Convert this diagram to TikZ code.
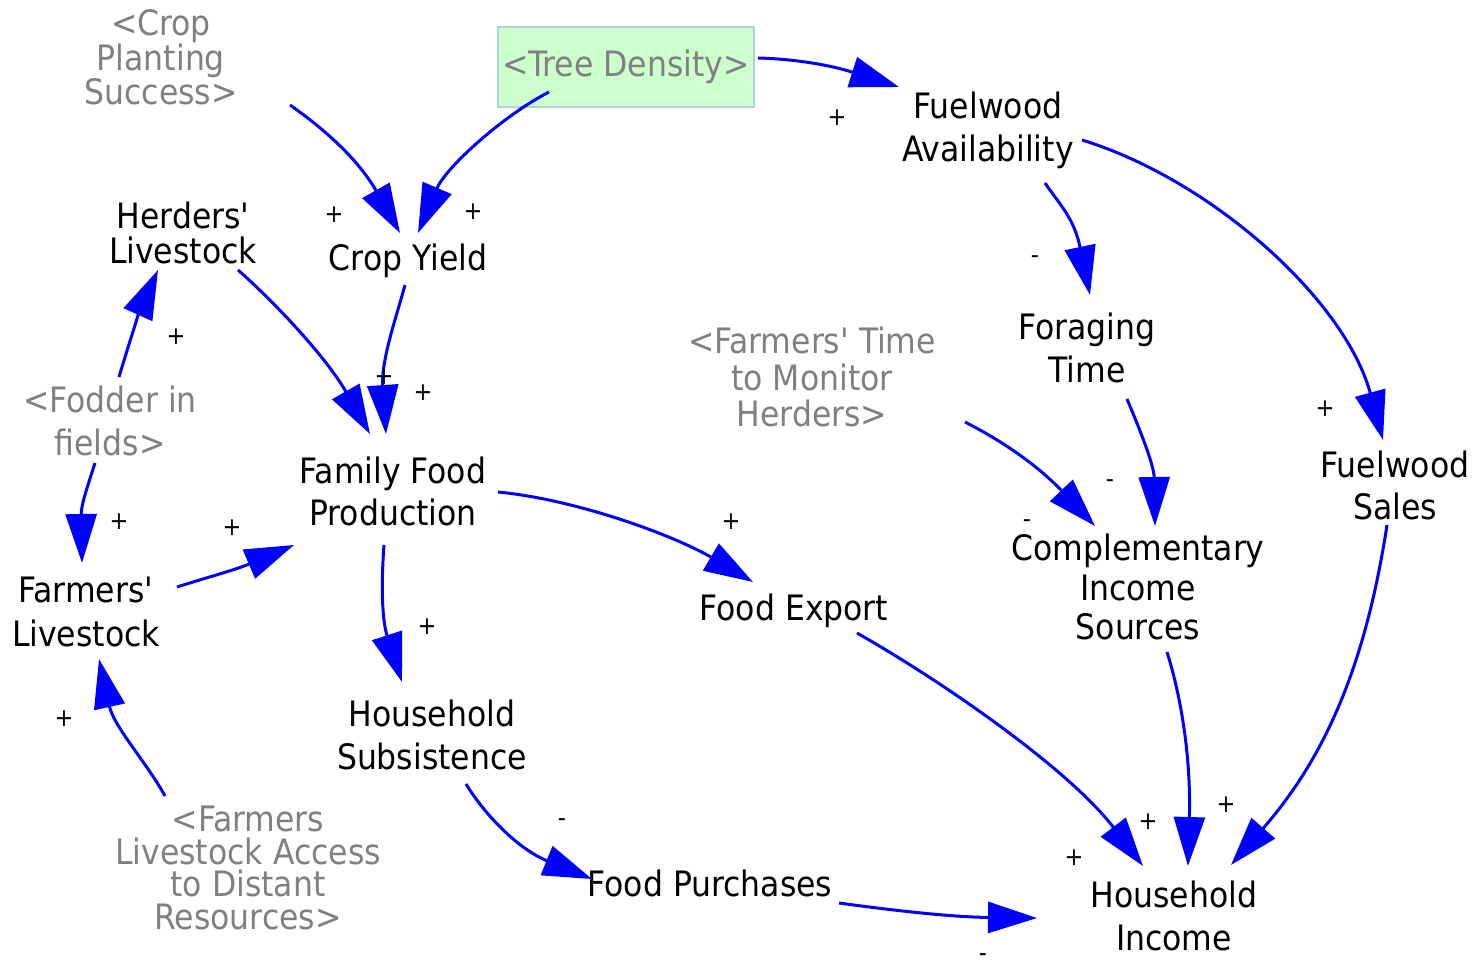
\documentclass[tikz,border=0pt]{standalone}
\usepackage{fontspec}
\setmainfont{DejaVu Sans Condensed}
\usetikzlibrary{arrows.meta,calc}
\definecolor{linkblue}{RGB}{0,0,255}
\definecolor{shadowgray}{RGB}{128,128,128}
\definecolor{boxfill}{RGB}{204,255,204}
\definecolor{boxline}{RGB}{170,212,215}
\tikzset{
  var/.style={align=center,inner sep=0pt,text=black},
  shadowvar/.style={align=center,inner sep=0pt,text=shadowgray},
  sign/.style={inner sep=0pt,font=\fontsize{25}{25}\selectfont,text=black},
  link/.style={draw=linkblue,line width=3pt,-{Triangle[length=49pt,width=31pt]}},
}
\newcommand{\fs}[1]{\fontsize{35}{#1}\selectfont}
\newcommand{\ap}{\textquotesingle}
\begin{document}
\begin{tikzpicture}[x=1pt,y=-1pt]
\useasboundingbox (0,0) rectangle (1475,970);
% nodes
\node[shadowvar,font=\fs{33}] (cps) at (161,57) {<Crop\\Planting\\Success>};
\node[shadowvar,font=\fs{34},fill=boxfill,draw=boxline,line width=2pt,minimum width=256pt,minimum height=80pt] (td) at (626,67) {<Tree Density>};
\node[var,font=\fs{43}] (fa) at (988,130) {Fuelwood\\Availability};
\node[var,font=\fs{35}] (hl) at (183,233) {Herders\ap\\Livestock};
\node[var,font=\fs{42}] (cy) at (408,261) {Crop Yield};
\node[var,font=\fs{43}] (ft) at (1087,348) {Foraging\\Time};
\node[shadowvar,font=\fs{36.5}] (fmt) at (812,377) {<Farmers\ap\ Time\\to Monitor\\Herders>};
\node[shadowvar,font=\fs{43}] (fod) at (110,421) {<Fodder in\\fields>};
\node[var,font=\fs{42}] (fs) at (1395,485) {Fuelwood\\Sales};
\node[var,font=\fs{42}] (ffp) at (393,491) {Family Food\\Production};
\node[var,font=\fs{39.5}] (cis) at (1138,587) {Complementary\\Income\\Sources};
\node[var,font=\fs{44}] (fl) at (86,612) {Farmers\ap\\Livestock};
\node[var,font=\fs{42}] (fe) at (794,611) {Food Export};
\node[var,font=\fs{43}] (hs) at (432,735) {Household\\Subsistence};
\node[shadowvar,font=\fs{32.5}] (fla) at (248,868) {<Farmers\\Livestock Access\\to Distant\\Resources>};
\node[var,font=\fs{42}] (fp) at (710,883) {Food Purchases};
\node[var,font=\fs{43}] (hi) at (1174,916) {Household\\Income};
% links
\draw[link] ($(cps)+(129,48)$) .. controls (340,140) and (365,171) .. ($(cy)+(-8,-28)$);
\draw[link] ($(td)+(-77,25)$) .. controls (504,115) and (446,167) .. ($(cy)+(10,-28)$);
\draw[link] ($(td)+(132,-9)$) .. controls (795,59) and (830,65) .. ($(fa)+(-89,-43)$);
\draw[link] ($(fa)+(57,53)$) .. controls (1060,205) and (1074,218) .. ($(ft)+(3,-53)$);
\draw[link] ($(fa)+(94,10)$) .. controls (1212,180) and (1345,300) .. ($(fs)+(-12,-45)$);
\draw[link] ($(hl)+(55,37)$) .. controls (270,298) and (325,355) .. ($(ffp)+(-23,-57)$);
\draw[link] ($(cy)+(-3,24)$) .. controls (397,315) and (381,360) .. ($(ffp)+(-7,-57)$);
\draw[link] ($(fod)+(9,-44)$) .. controls (127,350) and (140,310) .. ($(hl)+(-25,37)$);
\draw[link] ($(fod)+(-15,42)$) .. controls (88,485) and (81,505) .. ($(fl)+(-4,-49)$);
\draw[link] ($(fl)+(91,-25)$) .. controls (205,578) and (235,570) .. ($(ffp)+(-99,54)$);
\draw[link] ($(ffp)+(105,1)$) .. controls (580,500) and (677,537) .. ($(fe)+(-41,-29)$);
\draw[link] ($(ffp)+(-9,54)$) .. controls (381,585) and (382,620) .. ($(hs)+(-30,-53)$);
\draw[link] ($(fmt)+(153,45)$) .. controls (1010,445) and (1042,470) .. ($(cis)+(-43,-61)$);
\draw[link] ($(ft)+(40,51)$) .. controls (1140,430) and (1154,465) .. ($(cis)+(17,-61)$);
\draw[link] ($(fs)+(-8,40)$) .. controls (1367,655) and (1330,752) .. ($(hi)+(57,-51)$);
\draw[link] ($(cis)+(29,65)$) .. controls (1182,700) and (1191,760) .. ($(hi)+(14,-50)$);
\draw[link] ($(fe)+(63,22)$) .. controls (940,680) and (1068,768) .. ($(hi)+(-31,-50)$);
\draw[link] ($(hs)+(34,49)$) .. controls (485,815) and (518,849) .. ($(fp)+(-118,-4)$);
\draw[link] ($(fp)+(129,20)$) .. controls (890,910) and (950,917) .. ($(hi)+(-137,2)$);
\draw[link] ($(fla)+(-83,-72)$) .. controls (147,763) and (114,727) .. ($(fl)+(13,47)$);
% polarity signs
\node[sign] (s1) at (334,215) {+};
\node[sign] (s2) at (473,212) {+};
\node[sign] (s3) at (837,118) {+};
\node[sign] (s4) at (1035,260) {-};
\node[sign] (s5) at (1325,409) {+};
\node[sign] (s6) at (176,337) {+};
\node[sign] (s7) at (384,377) {+};
\node[sign] (s8) at (423,393) {+};
\node[sign] (s9) at (119,522) {+};
\node[sign] (s10) at (232,528) {+};
\node[sign] (s11) at (731,522) {+};
\node[sign] (s12) at (427,627) {+};
\node[sign] (s13) at (1110,484) {-};
\node[sign] (s14) at (1027,524) {-};
\node[sign] (s15) at (64,719) {+};
\node[sign] (s16) at (562,823) {-};
\node[sign] (s17) at (1148,822) {+};
\node[sign] (s18) at (1226,805) {+};
\node[sign] (s19) at (1074,858) {+};
\node[sign] (s20) at (983,958) {-};
\end{tikzpicture}
\end{document}
